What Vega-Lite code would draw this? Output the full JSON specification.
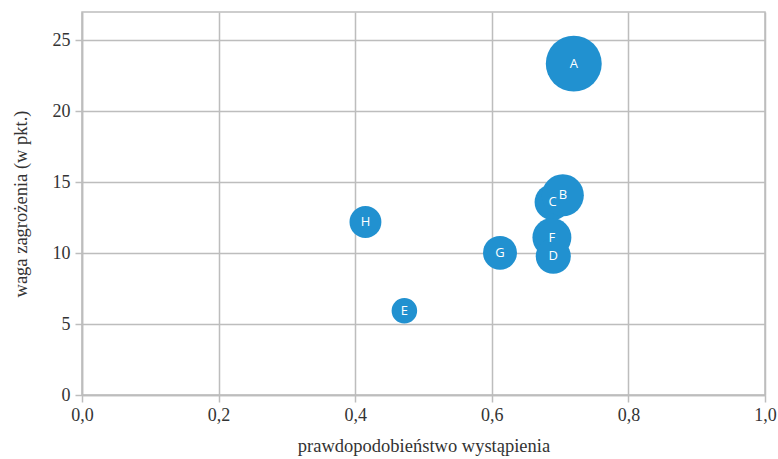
{
  "$schema": "https://vega.github.io/schema/vega-lite/v6.json",
  "autosize": "none",
  "padding": {"left": 82, "top": 12, "right": 13, "bottom": 64},
  "width": 683,
  "height": 383,
  "background": "white",
  "config": {
    "view": {"stroke": "#bdbdbd", "strokeWidth": 1.5},
    "axis": {
      "gridColor": "#bdbdbd",
      "gridWidth": 1.5,
      "gridOpacity": 1,
      "domainColor": "#bdbdbd",
      "domainWidth": 1.5,
      "tickColor": "#bdbdbd",
      "tickWidth": 1.5,
      "tickSize": 7,
      "labelFont": "Liberation Serif",
      "labelFontSize": 18,
      "labelColor": "#333333",
      "titleFont": "Liberation Serif",
      "titleFontSize": 18.5,
      "titleFontWeight": "normal",
      "titleColor": "#333333"
    }
  },
  "data": {
    "values": [
      {"id": "A", "p": 0.72, "w": 23.36, "wielkosc": 16.3},
      {"id": "C", "p": 0.689, "w": 13.6, "wielkosc": 6.75},
      {"id": "B", "p": 0.704, "w": 14.08, "wielkosc": 9.2},
      {"id": "F", "p": 0.688, "w": 11.1, "wielkosc": 7.9},
      {"id": "D", "p": 0.69, "w": 9.78, "wielkosc": 6.4},
      {"id": "G", "p": 0.612, "w": 10.02, "wielkosc": 6.0},
      {"id": "H", "p": 0.415, "w": 12.2, "wielkosc": 5.3},
      {"id": "E", "p": 0.472, "w": 5.94, "wielkosc": 3.4}
    ]
  },
  "encoding": {
    "x": {
      "field": "p", "type": "quantitative",
      "scale": {"domain": [0, 1], "nice": false},
      "axis": {
        "values": [0, 0.2, 0.4, 0.6, 0.8, 1.0],
        "labelExpr": "replace(format(datum.value, '.1f'), '.', ',')",
        "title": "prawdopodobieństwo wystąpienia",
        "labelPadding": 4,
        "titlePadding": 12,
        "labelFlush": false
      }
    },
    "y": {
      "field": "w", "type": "quantitative",
      "scale": {"domain": [0, 27], "nice": false},
      "axis": {
        "values": [0, 5, 10, 15, 20, 25],
        "title": "waga zagrożenia (w pkt.)",
        "labelPadding": 5,
        "titlePadding": 22,
        "labelFlush": false
      }
    }
  },
  "layer": [
    {
      "mark": {"type": "circle", "color": "#2191d0", "opacity": 1},
      "encoding": {
        "size": {
          "field": "wielkosc", "type": "quantitative",
          "scale": {"domain": [0, 20], "range": [0, 3840], "zero": true},
          "legend": null
        }
      }
    },
    {
      "mark": {"type": "text", "color": "white", "font": "Open Sans", "fontSize": 13, "baseline": "middle", "align": "center"},
      "encoding": {"text": {"field": "id"}}
    }
  ]
}
